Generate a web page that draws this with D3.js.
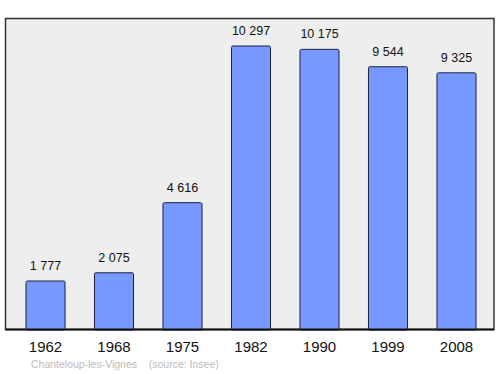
<!DOCTYPE html>
<html>
<head>
<meta charset="utf-8">
<script src="https://cdn.jsdelivr.net/npm/d3@7"></script>
<style>
  body { margin: 0; background: #fff; }
  text { font-family: "Liberation Sans", Arial, sans-serif; }
</style>
</head>
<body>
<div id="chart"></div>
<script>
const years = ['1962', '1968', '1975', '1982', '1990', '1999', '2008']
const population = [1777, 2075, 4616, 10297, 10175, 9544, 9325]
const labels = ['1 777', '2 075', '4 616', '10 297', '10 175', '9 544', '9 325']

const width = 500, height = 374
const frame = { left: 5.5, top: 18.5, right: 494, bottom: 329.5 }

const svg = d3.select('#chart').append('svg')
    .attr('width', width)
    .attr('height', height)

svg.append('rect')
    .attr('x', frame.left)
    .attr('y', frame.top)
    .attr('width', frame.right - frame.left)
    .attr('height', frame.bottom - frame.top)
    .attr('fill', '#eeeeee')
    .attr('stroke', '#333')
    .attr('stroke-width', 1.5)

// scales
const xScale = d3.scaleBand()
    .domain(years)
    .range([11.25, 490.75])
    .paddingInner(0.43)
    .paddingOuter(0.215)

const yScale = d3.scaleLinear()
    .domain([0, 11312])
    .range([330, 18])

const data = years.map((y, i) => ({ year: y, value: population[i], label: labels[i] }))

svg.append('g')
    .selectAll('rect')
    .data(data)
    .join('rect')
    .attr('x', d => xScale(d.year))
    .attr('y', d => yScale(d.value))
    .attr('width', xScale.bandwidth())
    .attr('height', d => yScale(0) - yScale(d.value))
    .attr('rx', 1.5)
    .attr('fill', '#7799ff')
    .attr('stroke', '#1e2040')
    .attr('stroke-width', 1)

svg.append('g')
    .selectAll('text')
    .data(data)
    .join('text')
    .attr('x', d => xScale(d.year) + xScale.bandwidth() / 2)
    .attr('y', d => yScale(d.value) - 11)
    .attr('text-anchor', 'middle')
    .attr('font-size', 12.5)
    .attr('fill', '#111')
    .text(d => d.label)

// bottom line of frame
svg.append('line')
    .attr('x1', frame.left)
    .attr('x2', frame.right)
    .attr('y1', frame.bottom)
    .attr('y2', frame.bottom)
    .attr('stroke', '#111')
    .attr('stroke-width', 2)

svg.append('g')
    .selectAll('text')
    .data(years)
    .join('text')
    .attr('x', d => xScale(d) + xScale.bandwidth() / 2)
    .attr('y', 352)
    .attr('text-anchor', 'middle')
    .attr('font-size', 15)
    .attr('fill', '#111')
    .text(d => d)

svg.append('text')
    .attr('x', 31)
    .attr('y', 368)
    .attr('font-size', 10.5)
    .attr('fill', '#bbb')
    .attr('xml:space', 'preserve')
    .style('white-space', 'pre')
    .text('Chanteloup-les-Vignes    (source: Insee)')
</script>
</body>
</html>
